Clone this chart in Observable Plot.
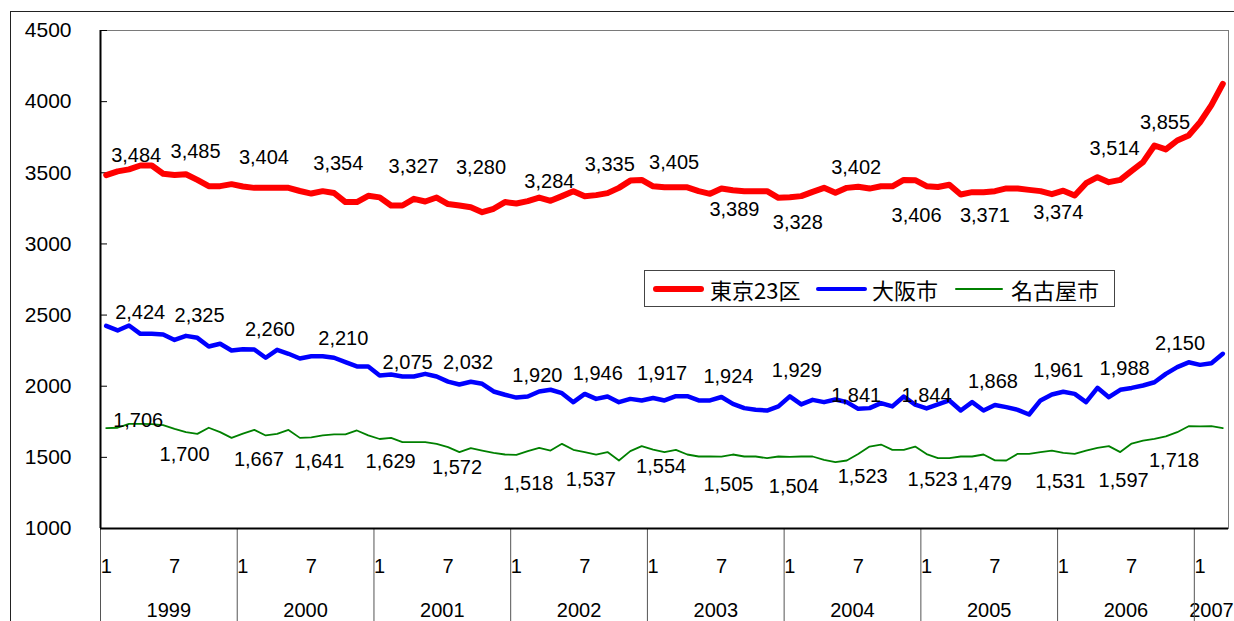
<!DOCTYPE html>
<html><head><meta charset="utf-8">
<script src="https://cdn.jsdelivr.net/npm/d3@7"></script>
<script src="https://cdn.jsdelivr.net/npm/@observablehq/plot@0.6"></script>
<style>
body{margin:0;background:#fff;}
#wrap{position:relative;width:1234px;height:621px;overflow:hidden;background:#fff;}
#chart{position:absolute;left:0;top:0;}
#outer{position:absolute;left:10px;top:11px;width:1300px;height:700px;border-left:1.5px solid #222;border-top:1.5px solid #222;pointer-events:none;}
#legend{position:absolute;left:644px;top:270px;width:469px;height:35px;border:1.5px solid #444;background:#fff;font-family:"Noto Sans CJK JP",sans-serif;font-size:22px;}
#legend .sw{position:absolute;border-radius:4px;}
#legend .tx{position:absolute;top:2px;line-height:32px;white-space:nowrap;color:#000;}
</style></head>
<body><div id="wrap"><div id="chart"></div><div id="legend"></div><div id="outer"></div></div>
<script>
// ---- data ----
const startYear = 1999;
const years = [1999, 2000, 2001, 2002, 2003, 2004, 2005, 2006, 2007];
const monthTickLabels = ["1", "7"];
const monthTickOffsets = [0, 6];
const seriesNames = ["東京23区", "大阪市", "名古屋市"];

const tokyo = [
 3484,3510,3524,3551,3551,3493,3485,3490,3450,3406,3406,3420,
 3404,3394,3394,3394,3394,3372,3354,3371,3358,3294,3294,3338,
 3327,3270,3270,3317,3298,3326,3280,3270,3258,3223,3247,3294,
 3284,3301,3326,3303,3336,3371,3335,3343,3357,3394,3445,3450,
 3405,3398,3398,3398,3371,3352,3389,3377,3371,3371,3371,3324,
 3328,3336,3366,3394,3359,3394,3402,3389,3405,3405,3450,3448,
 3406,3400,3416,3347,3364,3364,3371,3390,3390,3380,3371,3350,
 3374,3340,3427,3469,3434,3450,3514,3575,3692,3664,3727,3762,
 3855,3975,4125
];
const osaka = [
 2424,2392,2427,2368,2368,2364,2325,2354,2340,2279,2298,2251,
 2260,2258,2200,2256,2228,2195,2210,2211,2200,2169,2139,2139,
 2075,2082,2068,2068,2087,2068,2032,2012,2031,2017,1963,1940,
 1920,1928,1963,1975,1951,1888,1946,1911,1928,1888,1911,1900,
 1917,1900,1930,1930,1900,1900,1924,1876,1846,1834,1829,1858,
 1929,1872,1904,1888,1907,1888,1841,1846,1881,1858,1928,1870,
 1844,1872,1900,1829,1888,1829,1868,1853,1834,1801,1900,1942,
 1961,1946,1888,1989,1923,1975,1988,2005,2028,2087,2134,2168,
 2150,2162,2228
];
const nagoya = [
 1706,1708,1736,1736,1733,1726,1700,1677,1665,1708,1677,1637,
 1667,1693,1654,1665,1693,1637,1641,1654,1661,1661,1689,1654,
 1629,1637,1607,1607,1607,1595,1572,1537,1565,1548,1532,1520,
 1518,1544,1567,1548,1595,1553,1537,1520,1537,1478,1544,1579,
 1554,1537,1553,1520,1506,1506,1505,1520,1506,1506,1494,1506,
 1504,1506,1506,1483,1466,1478,1523,1576,1590,1553,1553,1576,
 1523,1494,1494,1506,1506,1520,1479,1478,1525,1525,1537,1548,
 1531,1525,1548,1567,1579,1537,1597,1618,1630,1647,1677,1719,
 1718,1719,1705
];
const yTicks = [1000, 1500, 2000, 2500, 3000, 3500, 4000, 4500];

// ---- styles (not data) ----
const seriesStyles = [
  {color: "#ff0000", width: 6},
  {color: "#0000ff", width: 4.5},
  {color: "#008000", width: 1.8}
];
// label placement offsets [dx, dy] per labelled point (every 6 months)
const labelOffsets = [
  [[30,-19],[21,-23],[21,-29],[27,-30],[34,-31],[33,-36],[33,-22],[25,-32],[21,-24],[13,21.5],[8,25],[-2,-19],[-10,29],[-10,24],[-5,21.5],[-17,-22],[-35,0]],
  [[34,-13],[25,-24],[27,-20],[32,-17.5],[28,-13],[20,-19.5],[21,-22],[13,-20],[9,-24],[7,-20.5],[7,-26],[-2,-13],[0,-13],[-2,-23],[-5,-21],[-7,-19],[-20,-21.5]],
  [[32,-7.6],[10,25.6],[16,26],[8,24.5],[11,23],[9,20.5],[12,29],[6,28],[8,16.6],[7,28],[4,30],[4.5,22.5],[6,26],[-8,23],[-3,29],[-8,37],[-26,34]]
];

const W = 1234, H = 621, mL = 100, mR = 6, mT = 30, mB = 93;
const valuesList = [tokyo, osaka, nagoya];
const N = tokyo.length;
const xDomain = [-0.5, N - 0.5];
const fmt = d3.format(",");
const labelFont = `"Liberation Sans", Arial, sans-serif`;
const narrowFont = `"Liberation Sans Narrow", "Arial Narrow", "Liberation Sans", sans-serif`;

const marks = [];
marks.push(Plot.frame({stroke: "#7a7a7a", strokeWidth: 1}));
// inside y ticks
marks.push(Plot.tickY(yTicks, {y: d => d, stroke: "#000", strokeWidth: 1, insetRight: (W - mL - mR) - 7}));
marks.push(Plot.axisY({ticks: yTicks, tickSize: 0, tickPadding: 29, tickFormat: d => String(d), fontSize: 21, fontFamily: labelFont, fill: "#000", label: null}));

// month ticks
const monthTicks = [];
for (let i = 0; i < N; i++) if (monthTickOffsets.includes(i % 12)) monthTicks.push(i);
marks.push(Plot.axisX({ticks: monthTicks, tickSize: 0, tickPadding: 30, label: null,
  tickFormat: i => monthTickLabels[monthTickOffsets.indexOf(i % 12)], fontSize: 20, fontFamily: narrowFont, fill: "#000"}));
// year labels centered on each year's months
const yearCenters = years.map((y, k) => {
  const a = k * 12 - 0.5, b = Math.min((k + 1) * 12 - 0.5, N - 0.5);
  return (a + b) / 2;
});
marks.push(Plot.axisX({ticks: yearCenters, tickSize: 0, tickPadding: 74, label: null,
  tickFormat: d => String(startYear + Math.floor((d + 0.5) / 12)), fontSize: 20, fontFamily: narrowFont, fill: "#000"}));
// year separators
const boundaries = years.map((y, k) => k * 12 - 0.5);
marks.push(Plot.axisX({ticks: boundaries, tickSize: mB, tickFormat: () => "", label: null, stroke: "#555", strokeWidth: 1}));

// axis lines
marks.push(Plot.ruleX([xDomain[0]], {stroke: "#000", strokeWidth: 2}));
marks.push(Plot.ruleY([yTicks[0]], {stroke: "#000", strokeWidth: 2}));

// lines
valuesList.forEach((vals, s) => {
  const rows = vals.map((v, i) => ({i, v}));
  marks.push(Plot.line(rows, {x: "i", y: "v", stroke: seriesStyles[s].color, strokeWidth: seriesStyles[s].width,
    strokeLinejoin: "round", strokeLinecap: "round"}));
});
// labels
valuesList.forEach((vals, s) => {
  labelOffsets[s].forEach(([dx, dy], k) => {
    const i = k * 6;
    if (i >= N) return;
    marks.push(Plot.text([{i, v: vals[i]}], {x: "i", y: "v", text: d => fmt(d.v), dx, dy,
      fontSize: 20, fontFamily: labelFont, fill: "#000", textAnchor: "middle", lineAnchor: "middle"}));
  });
});

const chart = Plot.plot({
  width: W, height: H,
  marginLeft: mL, marginRight: mR, marginTop: mT, marginBottom: mB,
  x: {type: "linear", domain: xDomain, axis: null, label: null},
  y: {domain: [yTicks[0], yTicks[yTicks.length - 1]], axis: null, label: null},
  style: {fontFamily: labelFont, background: "transparent", overflow: "visible"},
  marks
});
document.getElementById("chart").appendChild(chart);

// legend
const legend = document.getElementById("legend");
const swLeft = [8, 171, 310], txLeft = [65, 227, 366], swWidth = [51, 51, 48];
seriesNames.forEach((name, s) => {
  const sw = document.createElement("div");
  sw.className = "sw";
  const h = seriesStyles[s].width;
  sw.style.cssText = `left:${swLeft[s]}px;top:${18 - h / 2}px;width:${swWidth[s]}px;height:${h}px;background:${seriesStyles[s].color};`;
  legend.appendChild(sw);
  const tx = document.createElement("div");
  tx.className = "tx";
  tx.style.left = txLeft[s] + "px";
  tx.textContent = name;
  legend.appendChild(tx);
});
</script>
</body></html>
